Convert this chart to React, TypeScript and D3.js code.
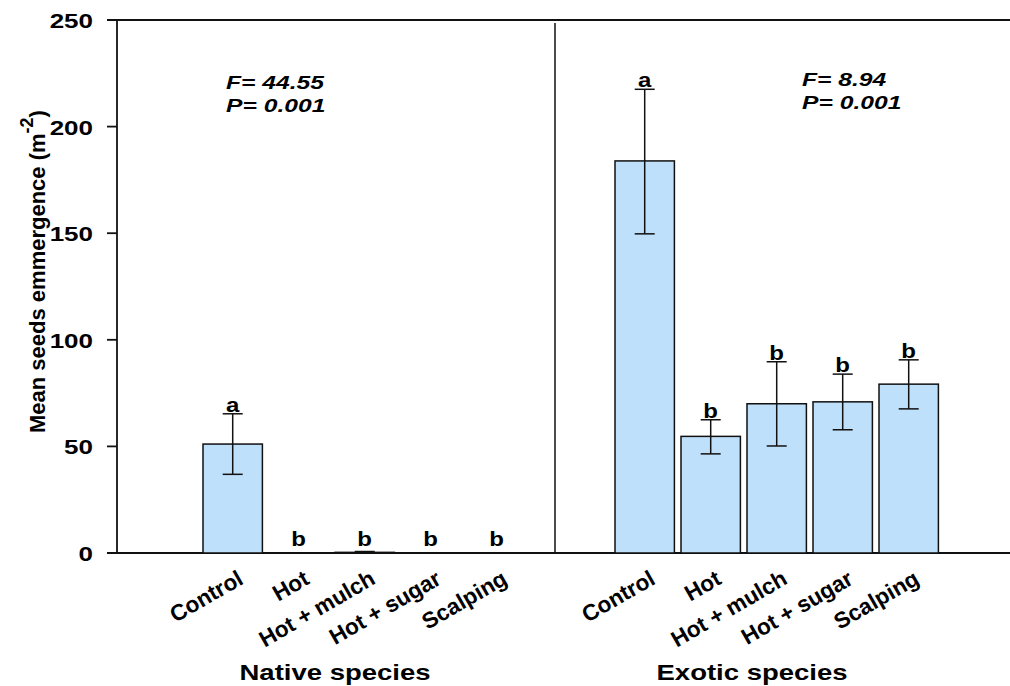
import React from 'react'
import * as d3 from 'd3'

const width = 1010
const height = 686
const fill = '#BFE0FB'
const font = 'Liberation Sans, Arial, sans-serif'
const sx = 1.3

const treatments = ['Control', 'Hot', 'Hot + mulch', 'Hot + sugar', 'Scalping']
const groups = ['Native species', 'Exotic species']

// means and error bar ends
const nativeMean = [51.1, 0, 0.3, 0, 0]
const nativeLow = [36.9, 0, 0, 0, 0]
const nativeHigh = [65.3, 0, 0.7, 0, 0]
const nativeLetters = ['a', 'b', 'b', 'b', 'b']

const exoticMean = [183.9, 54.7, 70.0, 70.9, 79.2]
const exoticLow = [149.7, 46.5, 50.2, 57.8, 67.6]
const exoticHigh = [217.5, 62.5, 89.7, 83.9, 90.6]
const exoticLetters = ['a', 'b', 'b', 'b', 'b']

const yTicks = [0, 50, 100, 150, 200, 250]
const stats = [['F= 44.55', 'P= 0.001'], ['F= 8.94', 'P= 0.001']]

const y = d3.scaleLinear().domain([0, 250]).range([553, 20])
const xNative = d3.scaleBand().domain(treatments).range([199.7, 529.7]).paddingInner(0.1).paddingOuter(0.05)
const xExotic = d3.scaleBand().domain(treatments).range([611.7, 941.7]).paddingInner(0.1).paddingOuter(0.05)

const panels = [
  { x: xNative, mean: nativeMean, low: nativeLow, high: nativeHigh, letters: nativeLetters, title: groups[0], titleX: 335, stat: stats[0], statX: 226, statY: 89 },
  { x: xExotic, mean: exoticMean, low: exoticLow, high: exoticHigh, letters: exoticLetters, title: groups[1], titleX: 752, stat: stats[1], statX: 802, statY: 86 },
]

function Stretched({ x, y, size, anchor = 'start', italic = false, s = sx, children }) {
  return (
    <text transform={`translate(${x},${y}) scale(${s},1)`} textAnchor={anchor}
      fontSize={size} fontWeight='bold' fontStyle={italic ? 'italic' : 'normal'} fontFamily={font}>
      {children}
    </text>
  )
}

export default function App() {
  return (
    <svg width={width} height={height} style={{ display: 'block', position: 'absolute', left: 0, top: 0 }}>
      <rect width={width} height={height} fill='#fff' />

      {/* axes frame */}
      <line x1={107} x2={width} y1={y(250)} y2={y(250)} stroke='#111' strokeWidth={1.8} />
      <line x1={107} x2={width} y1={y(0)} y2={y(0)} stroke='#111' strokeWidth={1.8} />
      <line x1={117} x2={117} y1={y(250)} y2={y(0)} stroke='#111' strokeWidth={1.8} />
      <line x1={555} x2={555} y1={y(250) + 3} y2={y(0)} stroke='#111' strokeWidth={1.5} />

      {yTicks.map(t => (
        <g key={t}>
          <line x1={107} x2={117} y1={y(t)} y2={y(t)} stroke='#111' strokeWidth={1.8} />
          <Stretched x={93} y={y(t) + 8} size={20} anchor='end'>{t}</Stretched>
        </g>
      ))}

      <text transform={`translate(45,433) rotate(-90)`} fontSize={22} fontWeight='bold' fontFamily={font}>
        Mean seeds emmergence (m<tspan dy={-12} fontSize={18}>-2</tspan><tspan dy={12}>)</tspan>
      </text>

      {panels.map((p, pi) => (
        <g key={pi}>
          {treatments.map((t, i) => {
            const cx = p.x(t) + p.x.bandwidth() / 2
            return (
              <g key={t}>
                <rect x={p.x(t)} y={y(p.mean[i])} width={p.x.bandwidth()} height={y(0) - y(p.mean[i])}
                  fill={fill} stroke='#111' strokeWidth={1.5} />
                {p.high[i] > p.low[i] && (
                  <g stroke='#111' strokeWidth={1.5}>
                    <line x1={cx} x2={cx} y1={y(p.low[i])} y2={y(p.high[i])} />
                    <line x1={cx - 10} x2={cx + 10} y1={y(p.low[i])} y2={y(p.low[i])} />
                    <line x1={cx - 10} x2={cx + 10} y1={y(p.high[i])} y2={y(p.high[i])} />
                  </g>
                )}
                <Stretched x={cx} y={Math.min(y(p.high[i]) - 2, y(0) - 7)} size={20} anchor='middle' s={1.2}>{p.letters[i]}</Stretched>
                <text transform={`translate(${cx + 12},${y(0) + 30}) rotate(-30)`} textAnchor='end'
                  fontSize={22.5} fontWeight='bold' fontFamily={font}>{t}</text>
              </g>
            )
          })}
          <Stretched x={p.titleX} y={680} size={22} anchor='middle' s={1.25}>{p.title}</Stretched>
          <Stretched x={p.statX} y={p.statY} size={18} italic s={1.37}>{p.stat[0]}</Stretched>
          <Stretched x={p.statX} y={p.statY + 23} size={18} italic s={1.37}>{p.stat[1]}</Stretched>
        </g>
      ))}
    </svg>
  )
}
